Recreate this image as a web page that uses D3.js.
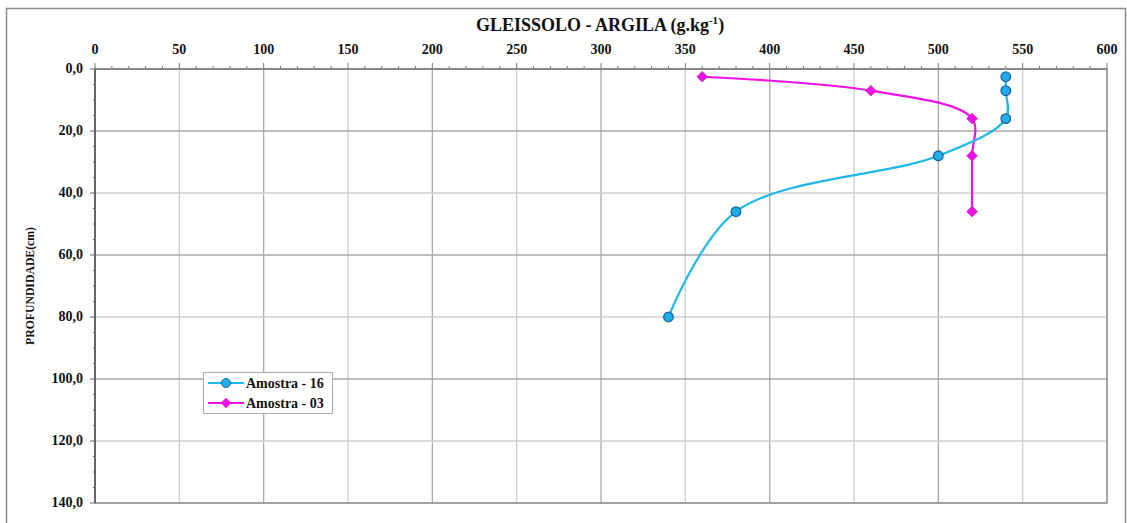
<!DOCTYPE html>
<html lang="pt">
  <head>
    <meta charset="utf-8" />
    <title>Gleissolo - Argila</title>
    <script src="https://d3js.org/d3.v7.min.js"></script>
    <style>
      body { margin: 0; padding: 0; background: #fff; }
      svg { display: block; }
    </style>
  </head>
  <body>
    <svg id="chart" width="1127" height="523" font-family="'Liberation Serif', 'Times New Roman', 'DejaVu Serif', serif" font-weight="bold"></svg>
    <script>
      // data: argila (g/kg) vs profundidade (cm)
      var seriesNames = ["Amostra - 16", "Amostra - 03"];
      var depth16 = [2.5, 7, 16, 28, 46, 80];
      var argila16 = [540, 540, 540, 500, 380, 340];
      var depth03 = [2.5, 7, 16, 28, 46];
      var argila03 = [360, 460, 520, 520, 520];
      var xTicks = [0, 50, 100, 150, 200, 250, 300, 350, 400, 450, 500, 550, 600];
      var yTicks = [0, 20, 40, 60, 80, 100, 120, 140];

      var svg = d3.select("#chart");
      var margin = {top: 69, right: 20, bottom: 20, left: 95};
      var width = 1107 - margin.left;
      var height = 503 - margin.top;

      var x = d3.scaleLinear().domain([0, 600]).range([0, width]);
      var y = d3.scaleLinear().domain([0, 140]).range([0, height]);

      // outer frame
      svg.append("rect")
        .attr("x", 6.5).attr("y", 8.5)
        .attr("width", 1119).attr("height", 530)
        .attr("fill", "none")
        .attr("stroke", "#8c8c8c")
        .attr("stroke-width", 1.5);

      // title
      var title = svg.append("text")
        .attr("x", 600).attr("y", 31)
        .attr("text-anchor", "middle")
        .attr("fill", "#111")
        .style("font-size", "18px");
      title.append("tspan").text("GLEISSOLO - ARGILA (g.kg");
      title.append("tspan").attr("dy", -7).style("font-size", "11px").text("-1");
      title.append("tspan").attr("dy", 7).text(")");

      var g = svg.append("g")
        .attr("transform", "translate(" + margin.left + "," + margin.top + ")");

      // grid
      g.append("g").selectAll("line")
        .data(xTicks.slice(1))
        .enter().append("line")
        .attr("x1", function(d){ return x(d); })
        .attr("x2", function(d){ return x(d); })
        .attr("y1", 0).attr("y2", height)
        .attr("stroke", function(d, i){ return i % 2 ? "#a8a8a8" : "#cfcfcf"; })
        .attr("stroke-width", 1.3);
      g.append("g").selectAll("line")
        .data(yTicks.slice(1))
        .enter().append("line")
        .attr("x1", 0).attr("x2", width)
        .attr("y1", function(d){ return y(d); })
        .attr("y2", function(d){ return y(d); })
        .attr("stroke", function(d, i){ return i % 2 ? "#cfcfcf" : "#a8a8a8"; })
        .attr("stroke-width", 1.3);

      // plot border
      g.append("rect")
        .attr("x", 0).attr("y", 0)
        .attr("width", width).attr("height", height)
        .attr("fill", "none")
        .attr("stroke", "#999")
        .attr("stroke-width", 1.5);

      // top axis: minor ticks every 10
      var xAxis = g.append("g");
      xAxis.selectAll("line.minor")
        .data(d3.range(0, 601, 10))
        .enter().append("line")
        .attr("x1", function(d){ return x(d); })
        .attr("x2", function(d){ return x(d); })
        .attr("y1", 0)
        .attr("y2", function(d){ return d % 50 === 0 ? -6 : -3; })
        .attr("stroke", "#777");
      xAxis.append("line")
        .attr("x1", 0).attr("x2", width)
        .attr("y1", 0).attr("y2", 0)
        .attr("stroke", "#888").attr("stroke-width", 2);
      xAxis.selectAll("text")
        .data(xTicks)
        .enter().append("text")
        .attr("x", function(d){ return x(d); })
        .attr("y", -15)
        .attr("text-anchor", "middle")
        .attr("fill", "#111")
        .style("font-size", "14px")
        .text(function(d){ return d; });

      // left axis: minor ticks every 5
      var yAxis = g.append("g");
      yAxis.selectAll("line.minor")
        .data(d3.range(0, 141, 5))
        .enter().append("line")
        .attr("y1", function(d){ return y(d); })
        .attr("y2", function(d){ return y(d); })
        .attr("x1", 0)
        .attr("x2", function(d){ return d % 20 === 0 ? -5 : -2; })
        .attr("stroke", "#666");
      yAxis.append("line")
        .attr("x1", 0).attr("x2", 0)
        .attr("y1", 0).attr("y2", height)
        .attr("stroke", "#666").attr("stroke-width", 2);
      yAxis.selectAll("text")
        .data(yTicks)
        .enter().append("text")
        .attr("x", -12)
        .attr("y", function(d){ return y(d) + 4; })
        .attr("text-anchor", "end")
        .attr("fill", "#111")
        .style("font-size", "14px")
        .text(function(d){ return d.toFixed(1).replace(".", ","); });

      // y label
      svg.append("text")
        .attr("transform", "translate(34,286) rotate(-90)")
        .attr("text-anchor", "middle")
        .attr("textLength", 118)
        .attr("lengthAdjust", "spacingAndGlyphs")
        .attr("fill", "#111")
        .style("font-size", "12px")
        .text("PROFUNDIDADE(cm)");

      // lines
      var line = d3.line()
        .x(function(d){ return x(d[0]); })
        .y(function(d){ return y(d[1]); })
        .curve(d3.curveCatmullRom.alpha(0.5));

      var data16 = argila16.map(function(v, i){ return [v, depth16[i]]; });
      var data03 = argila03.map(function(v, i){ return [v, depth03[i]]; });

      g.append("path")
        .attr("d", line(data03))
        .attr("fill", "none")
        .attr("stroke", "#ee11e8")
        .attr("stroke-width", 2.2);
      g.append("path")
        .attr("d", line(data16))
        .attr("fill", "none")
        .attr("stroke", "#1cb8ea")
        .attr("stroke-width", 2.2);

      var diamond = d3.symbol().type(d3.symbolDiamond2).size(70);
      g.selectAll("path.m03")
        .data(data03)
        .enter().append("path")
        .attr("class", "m03")
        .attr("d", diamond)
        .attr("transform", function(d){ return "translate(" + x(d[0]) + "," + y(d[1]) + ")"; })
        .attr("fill", "#ee11e8")
        .attr("stroke", "#c80fc8")
        .attr("stroke-width", 0.8);

      g.selectAll("circle.m16")
        .data(data16)
        .enter().append("circle")
        .attr("cx", function(d){ return x(d[0]); })
        .attr("cy", function(d){ return y(d[1]); })
        .attr("r", 4.8)
        .attr("fill", "#20aee8")
        .attr("stroke", "#1b63a8")
        .attr("stroke-width", 1.3);

      // legend
      var legend = svg.append("g").attr("transform", "translate(203,372)");
      legend.append("rect")
        .attr("x", 0.5).attr("y", 0.5)
        .attr("width", 129).attr("height", 41)
        .attr("fill", "#fff")
        .attr("stroke", "#aaa");
      var colors = ["#1cb8ea", "#ee11e8"];
      seriesNames.forEach(function(name, i){
        var ly = 11 + i * 20;
        legend.append("line")
          .attr("x1", 5).attr("x2", 41)
          .attr("y1", ly).attr("y2", ly)
          .attr("stroke", colors[i]).attr("stroke-width", 2);
        if (i === 0) {
          legend.append("circle")
            .attr("cx", 23).attr("cy", ly).attr("r", 4.5)
            .attr("fill", "#20aee8").attr("stroke", "#1b63a8").attr("stroke-width", 1);
        } else {
          legend.append("path")
            .attr("d", diamond)
            .attr("transform", "translate(23," + ly + ")")
            .attr("fill", "#ee11e8");
        }
        legend.append("text")
          .attr("x", 43).attr("y", ly + 5)
          .attr("fill", "#111")
          .style("font-size", "14px")
          .text(name);
      });
    </script>
  </body>
</html>
